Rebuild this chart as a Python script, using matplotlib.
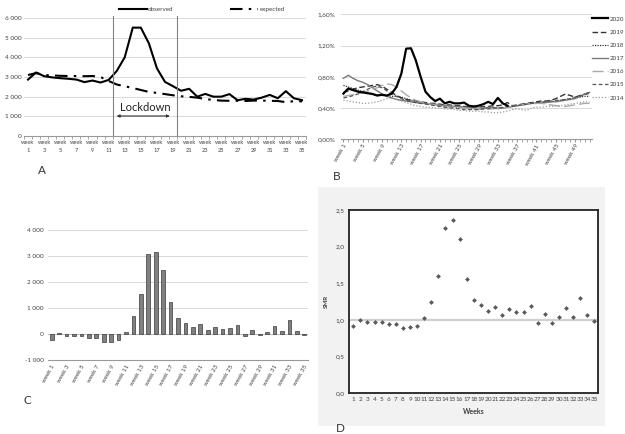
import matplotlib
matplotlib.use("Agg")
import matplotlib.pyplot as plt
import matplotlib.patches as mpatches
from matplotlib.ticker import FuncFormatter, FixedLocator
import numpy as np

plt.rcParams['font.family'] = ['Lato', 'DejaVu Sans']

# ---- data ----
weeks35 = list(range(1, 36))
observed = [2870, 3230, 3040, 2980, 2940, 2910, 2870, 2740, 2820, 2720,
            2850, 3300, 4000, 5510, 5510, 4710, 3440, 2750, 2530, 2300,
            2400, 2000, 2140, 2000, 2000, 2130, 1820, 1890, 1850, 1950,
            2090, 1920, 2280, 1920, 1820]
expected = [3100, 3200, 3100, 3080, 3060, 3050, 3050, 3040, 3050, 3000,
            2800, 2620, 2530, 2440, 2340, 2240, 2190, 2130, 2070, 2020,
            1990, 1950, 1880, 1830, 1800, 1790, 1790, 1780, 1800, 1800,
            1790, 1780, 1720, 1770, 1760]
excess = [-220, 20, -90, -80, -80, -170, -170, -320, -290, -220,
          80, 700, 1540, 3070, 3170, 2470, 1250, 600, 420, 270,
          380, 150, 280, 210, 220, 340, -70, 150, -50, 80,
          300, 100, 530, 120, -20]
smr = [0.92, 1.00, 0.97, 0.97, 0.97, 0.94, 0.94, 0.89, 0.90, 0.92,
       1.03, 1.25, 1.60, 2.26, 2.36, 2.10, 1.56, 1.27, 1.20, 1.12,
       1.18, 1.07, 1.15, 1.11, 1.11, 1.19, 0.96, 1.08, 0.96, 1.04,
       1.16, 1.04, 1.30, 1.06, 0.99]

weeks52 = list(range(1, 53))
y2020 = [0.585, 0.65, 0.63, 0.61, 0.60, 0.59, 0.58, 0.56, 0.57, 0.56,
         0.585, 0.67, 0.84, 1.16, 1.165, 1.01, 0.80, 0.61, 0.54, 0.49,
         0.52, 0.46, 0.48, 0.46, 0.46, 0.47, 0.43, 0.42, 0.43, 0.45,
         0.48, 0.45, 0.53, 0.46, 0.43]
y2019 = [0.60, 0.62, 0.64, 0.66, 0.67, 0.68, 0.69, 0.70, 0.68, 0.64,
         0.60, 0.56, 0.53, 0.51, 0.50, 0.49, 0.48, 0.47, 0.46, 0.46,
         0.45, 0.44, 0.44, 0.43, 0.43, 0.42, 0.42, 0.42, 0.41, 0.42,
         0.42, 0.43, 0.43, 0.44, 0.47, 0.43, 0.44, 0.45, 0.46, 0.47,
         0.48, 0.49, 0.49, 0.50, 0.52, 0.55, 0.58, 0.56, 0.54, 0.56,
         0.58, 0.60]
y2018 = [0.69, 0.67, 0.65, 0.63, 0.61, 0.60, 0.58, 0.57, 0.56, 0.56,
         0.55, 0.55, 0.54, 0.52, 0.50, 0.49, 0.47, 0.46, 0.45, 0.44,
         0.43, 0.43, 0.42, 0.42, 0.41, 0.41, 0.40, 0.40, 0.39, 0.39,
         0.40, 0.40, 0.39, 0.40, 0.41, 0.42, 0.43, 0.44, 0.45, 0.46,
         0.47, 0.47, 0.48, 0.48, 0.49, 0.50, 0.51, 0.52, 0.53, 0.54,
         0.55, 0.55]
y2017 = [0.78, 0.82, 0.78, 0.75, 0.73, 0.70, 0.66, 0.62, 0.58, 0.55,
         0.53, 0.51, 0.50, 0.49, 0.48, 0.47, 0.46, 0.46, 0.45, 0.45,
         0.44, 0.43, 0.43, 0.42, 0.42, 0.41, 0.41, 0.40, 0.40, 0.40,
         0.41, 0.41, 0.40, 0.40, 0.41, 0.42, 0.43, 0.44, 0.45, 0.46,
         0.46, 0.47, 0.47, 0.48, 0.48, 0.49, 0.50, 0.51, 0.52, 0.55,
         0.58, 0.60]
y2016 = [0.55, 0.56, 0.57, 0.58, 0.60, 0.62, 0.64, 0.66, 0.69, 0.71,
         0.70, 0.67, 0.62, 0.57, 0.53, 0.50, 0.48, 0.46, 0.45, 0.44,
         0.43, 0.42, 0.41, 0.41, 0.40, 0.40, 0.39, 0.39, 0.39, 0.38,
         0.39, 0.39, 0.40, 0.40, 0.41, 0.42, 0.43, 0.44, 0.45, 0.46,
         0.46, 0.46, 0.45, 0.44, 0.43, 0.42, 0.42, 0.43, 0.44, 0.45,
         0.46, 0.46]
y2015 = [0.53, 0.54, 0.56, 0.58, 0.61, 0.64, 0.67, 0.68, 0.66, 0.62,
         0.58, 0.55, 0.52, 0.50, 0.48, 0.47, 0.46, 0.45, 0.44, 0.43,
         0.42, 0.41, 0.40, 0.40, 0.39, 0.38, 0.38, 0.38, 0.38, 0.39,
         0.39, 0.40, 0.40, 0.41, 0.42, 0.42, 0.43, 0.44, 0.45, 0.46,
         0.47, 0.48, 0.48, 0.49, 0.50, 0.50, 0.51, 0.52, 0.54, 0.55,
         0.57, 0.59]
y2014 = [0.50, 0.49, 0.48, 0.47, 0.46, 0.46, 0.47, 0.48, 0.50, 0.52,
         0.53, 0.51, 0.49, 0.47, 0.45, 0.43, 0.42, 0.41, 0.41, 0.40,
         0.40, 0.39, 0.39, 0.38, 0.37, 0.37, 0.36, 0.36, 0.36, 0.35,
         0.35, 0.34, 0.34, 0.35, 0.36, 0.38, 0.39, 0.38, 0.37, 0.40,
         0.41, 0.41, 0.42, 0.42, 0.43, 0.43, 0.44, 0.45, 0.46, 0.47,
         0.48, 0.48]
years = ['2020', '2019', '2018', '2017', '2016', '2015', '2014']
year_series = [y2020, y2019, y2018, y2017, y2016, y2015, y2014]

W, H = 625, 434
fig = plt.figure(figsize=(W / 100, H / 100), dpi=100)
fig.patch.set_facecolor('white')


def px_axes(l, t, r, b):
    return fig.add_axes([l / W, 1 - b / H, (r - l) / W, (b - t) / H])


grid_c = '#d9d9d9'
axis_c = '#999999'
lab_c = '#404040'
tick_fs = 4.6
space_fmt = FuncFormatter(lambda v, p: f"{int(v):,}".replace(",", " "))

# ---- Panel A ----
axA = px_axes(24, 18, 306, 136)
xa = np.arange(len(weeks35))
axA.plot(xa, observed, color='black', lw=1.5, label='observed')
axA.plot(xa, expected, color='black', lw=1.5, dashes=(6, 3, 1.2, 3), label='expected')
axA.axvline(10.5, color='#808080', lw=0.8, ymax=1.02, clip_on=False)
axA.axvline(18.5, color='#808080', lw=0.8, ymax=1.02, clip_on=False)
axA.annotate('', xy=(11.0, 1017), xytext=(17.6, 1017),
             arrowprops=dict(arrowstyle='<|-|>', color='#333333', lw=0.8,
                             mutation_scale=4, shrinkA=0, shrinkB=0))
axA.text(14.5, 1430, 'Lockdown', ha='center', va='center', fontsize=8, color='#222222')
axA.set_xlim(-0.5, len(weeks35) - 0.5)
axA.set_ylim(0, 6000)
axA.set_yticks(range(0, 6001, 1000))
axA.yaxis.set_major_formatter(space_fmt)
axA.set_xticks(xa[::2])
axA.set_xticklabels([f"week\n{w}" for w in weeks35[::2]], linespacing=1.6)
axA.xaxis.set_minor_locator(FixedLocator(np.arange(-0.5, len(weeks35), 1)))
axA.tick_params(axis='x', which='major', length=0, labelsize=4.1, pad=3, labelcolor=lab_c)
axA.tick_params(axis='x', which='minor', length=2, color=axis_c)
axA.tick_params(axis='y', length=0, labelsize=tick_fs, pad=2, labelcolor=lab_c)
axA.grid(axis='y', color=grid_c, lw=0.7)
axA.set_axisbelow(True)
for s in ['top', 'right', 'left']:
    axA.spines[s].set_visible(False)
axA.spines['bottom'].set_color(axis_c)
axA.legend(loc='center', bbox_to_anchor=(0.63, 1.075), ncol=2, frameon=False,
           fontsize=4.5, handlelength=4.5, columnspacing=9, handletextpad=0.2,
           labelcolor=lab_c)

# ---- Panel B ----
axB = px_axes(341, 14.3, 592, 139.3)
xb = np.arange(len(weeks52))
stylesB = [
    dict(color='black', lw=1.6),
    dict(color='#333333', lw=1.0, dashes=(4, 2)),
    dict(color='#333333', lw=0.9, dashes=(1, 1)),
    dict(color='#7a7a7a', lw=1.0),
    dict(color='#aaaaaa', lw=1.0, dashes=(8, 3)),
    dict(color='#555555', lw=0.9, dashes=(3, 2)),
    dict(color='#9a9a9a', lw=0.9, dashes=(1, 1.5)),
]
order = list(range(1, len(years))) + [0]
for i in order:
    vals = year_series[i]
    axB.plot(xb[:len(vals)], vals, label=years[i], zorder=3 if i == 0 else 2, **stylesB[i])
axB.set_xlim(-0.5, len(weeks52) - 0.5)
axB.set_ylim(0, 1.6)
axB.set_yticks([0, 0.4, 0.8, 1.2, 1.6])
axB.yaxis.set_major_formatter(FuncFormatter(lambda v, p: f"{v:.2f}%".replace(".", ",")))
axB.set_xticks(xb[::4])
axB.set_xticklabels([f"week {w}" for w in weeks52[::4]], rotation=60, ha='right',
                    rotation_mode='anchor')
axB.xaxis.set_minor_locator(FixedLocator(xb))
axB.tick_params(axis='x', which='major', length=2, color=axis_c, labelsize=4.4, pad=1,
                labelcolor=lab_c)
axB.tick_params(axis='x', which='minor', length=2, color=axis_c)
axB.tick_params(axis='y', length=0, labelsize=tick_fs, pad=4, labelcolor=lab_c)
axB.grid(axis='y', color=grid_c, lw=0.7)
axB.set_axisbelow(True)
for s in ['top', 'right', 'left']:
    axB.spines[s].set_visible(False)
axB.spines['bottom'].set_color(axis_c)
handles, labels = axB.get_legend_handles_labels()
hmap = dict(zip(labels, handles))
axB.legend([hmap[y] for y in years], years, loc='upper left', bbox_to_anchor=(1.0, 0.985),
           frameon=False, fontsize=4.5, handlelength=2.6, handletextpad=0.2,
           labelspacing=1.25, borderaxespad=0, borderpad=0, labelcolor=lab_c)

# ---- Panel C ----
axC = px_axes(48, 230, 308, 360)
xc = np.arange(len(weeks35))
axC.bar(xc, excess, width=0.5, color='#808080', edgecolor='#3a3a3a', lw=0.5, zorder=3)
axC.axhline(0, color='#bfbfbf', lw=0.8, zorder=2)
axC.set_xlim(-0.5, len(weeks35) - 0.5)
axC.set_ylim(-1000, 4000)
axC.set_yticks(range(-1000, 4001, 1000))
axC.yaxis.set_major_formatter(FuncFormatter(
    lambda v, p: ("-" if v < 0 else "") + f"{abs(int(v)):,}".replace(",", " ")))
axC.set_xticks(xc[::2])
axC.set_xticklabels([f"week {w}" for w in weeks35[::2]], rotation=60, ha='right',
                    rotation_mode='anchor')
axC.tick_params(axis='x', length=0, labelsize=4.4, pad=3, labelcolor=lab_c)
axC.tick_params(axis='y', length=0, labelsize=tick_fs, pad=3, labelcolor=lab_c)
axC.grid(axis='y', color=grid_c, lw=0.7)
axC.set_axisbelow(True)
for s in ['top', 'right', 'left']:
    axC.spines[s].set_visible(False)
axC.spines['bottom'].set_color(axis_c)

# ---- Panel D ----
fig.add_artist(mpatches.Rectangle((318 / W, 1 - 426 / H), (605 - 318) / W, (426 - 187) / H,
                                  transform=fig.transFigure, facecolor='#f2f2f2',
                                  edgecolor='none', zorder=0))
axD = px_axes(349, 210, 598, 393)
axD.axhline(1.0, color='#d0d0d0', lw=1.6, zorder=1)
axD.scatter(weeks35, smr, marker='D', s=6, color='#595959', zorder=3, linewidths=0)
axD.set_xlim(0.4, 35.5)
axD.set_ylim(0, 2.5)
axD.set_yticks([0, 0.5, 1.0, 1.5, 2.0, 2.5])
axD.yaxis.set_major_formatter(FuncFormatter(lambda v, p: f"{v:.1f}".replace(".", ",")))
axD.set_xticks(weeks35)
axD.tick_params(axis='both', length=0, labelsize=4.6, pad=3, labelcolor=lab_c)
for s in axD.spines.values():
    s.set_color('#222222')
    s.set_linewidth(1.3)
axD.set_ylabel('SMR', fontsize=4.5, fontweight='bold', labelpad=5, color=lab_c)
axD.set_xlabel('Weeks', fontsize=5, fontweight='bold', labelpad=4, color=lab_c)

# ---- panel letters ----
for letter, x, y in [('A', 42, 171), ('B', 337, 177), ('C', 27, 400), ('D', 340, 428)]:
    fig.text(x / W, 1 - y / H, letter, ha='center', va='center', fontsize=8.5, color='#333333')

fig.savefig('out.png', dpi=100)
